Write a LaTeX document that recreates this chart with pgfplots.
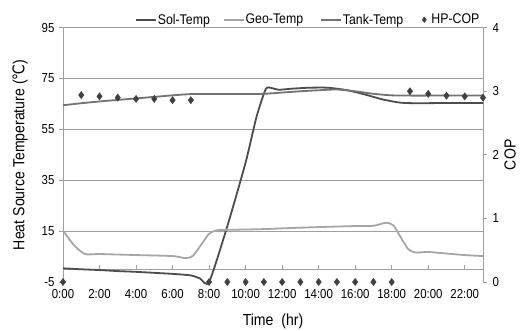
\documentclass[border=0pt]{standalone}
\usepackage{pgfplots}
\pgfplotsset{compat=1.18}
\usepackage{fontspec}
\setmainfont{Liberation Sans}[FakeStretch=0.88]
\newfontfamily\symfont{DejaVu Sans}[FakeStretch=0.88]
\definecolor{solc}{HTML}{4D4D4D}
\definecolor{geoc}{HTML}{A6A6A6}
\definecolor{tankc}{HTML}{737373}
\definecolor{copc}{HTML}{404040}
\definecolor{gridc}{HTML}{A0A0A0}
\pgfplotsset{shortline/.style={legend image code/.code={\draw[##1] (0pt,0pt) -- (20pt,0pt);}},
  dialeg/.style={legend image code/.code={\draw[##1] plot coordinates {(4pt,0pt)};}}}
\begin{document}
\begin{tikzpicture}
\pgfplotsset{
  every axis/.append style={
    scale only axis, width=420pt, height=254.3pt,
    xmin=0, xmax=23,
    tick label style={font=\fontsize{13}{13}\selectfont},
    /pgf/number format/assume math mode=true,
  }
}
\begin{axis}[
  axis lines=none,
  ymin=-5, ymax=95,
  ytick={-5,15,35,55,75,95},
  xtick=\empty,
  clip=false,
]
% grid lines
\foreach \v in {15,35,55,75,95}{
  \edef\tmp{\noexpand\draw[gridc, line width=0.8pt] (axis cs:0,\v) -- (axis cs:23,\v);}
  \tmp
}
\draw[gridc, line width=0.8pt] (axis cs:0,0) -- (axis cs:23,0);
\foreach \h in {2,4,...,22}{
  \edef\tmp{\noexpand\draw[gridc, line width=0.8pt] (axis cs:\h,0) -- ++(0pt,4pt);}
  \tmp
}
\draw[gridc, line width=0.8pt] (axis cs:0,-5) -- (axis cs:0,95);
\draw[gridc, line width=0.8pt] (axis cs:23,-5) -- (axis cs:23,95);
\foreach \v in {-5,15,35,55,75,95}{
  \edef\tmp{\noexpand\draw[gridc, line width=0.8pt] (axis cs:0,\v) -- ++(-4pt,0pt);
    \noexpand\node[anchor=east, font=\noexpand\fontsize{13}{13}\noexpand\selectfont] at ([xshift=-5pt]axis cs:0,\v) {\v};}
  \tmp
}
\foreach \h/\l in {0/0:00,2/2:00,4/4:00,6/6:00,8/8:00,10/10:00,12/12:00,14/14:00,16/16:00,18/18:00,20/20:00,22/22:00}{
  \edef\tmp{\noexpand\node[anchor=north, font=\noexpand\fontsize{13}{13}\noexpand\selectfont] at ([yshift=-4pt]axis cs:\h,-5) {\l};}
  \tmp
}
\node[font=\fontsize{16}{16}\selectfont] at ([yshift=-39pt]axis cs:11.5,-5) {Time\ \ (hr)};
\node[rotate=90, font=\fontsize{16}{16}\selectfont] at ([xshift=-43pt]axis cs:0,45) {Heat Source Temperature ({\symfont ℃})};
% Sol-Temp
\addplot[solc, line width=1.8pt, smooth, tension=0.4] coordinates {
(0,0.4) (1,0.0) (2,-0.3) (3,-0.7) (4,-1.0) (5,-1.4) (6,-1.8) (7,-2.4) (7.5,-3.6) (8,-5)
(9,17) (10,42) (10.6,60) (11.1,70.8) (11.4,71.3) (11.8,70.6) (12.5,71.0) (13.5,71.4) (14.5,71.4)
(15.5,70.5) (16.5,68.8) (17.5,66.8) (18.5,65.5) (19.5,65.3) (21,65.4) (23,65.4)
};
% Geo-Temp
\addplot[geoc, line width=1.8pt, smooth, tension=0.4] coordinates {
(0,15.2) (0.6,9.5) (1.2,6.0) (2,6.0) (4,5.6) (6,5.2) (6.7,4.4) (7.1,5.2) (7.6,10) (8,14.0) (8.4,15.3)
(9,15.5) (11,15.8) (12,16.1) (14,16.6) (16,17.0) (17,17.1) (17.7,18.3) (18.1,17.2) (18.5,12.5) (18.9,8.0) (19.3,6.6)
(20,6.8) (21,6.2) (22,5.6) (23,5.2)
};
% Tank-Temp
\addplot[tankc, line width=1.8pt, smooth, tension=0.4] coordinates {
(0,64.5) (1,65.3) (2,66.0) (3,66.6) (4,67.2) (5,67.8) (6,68.4) (7,68.9) (8,68.9) (9,68.9) (10,68.9)
(11,69.0) (12,69.5) (13,70.0) (14,70.4) (15,70.7) (16,70.0) (17,69.0) (18,68.4) (19,68.3) (20,68.3) (21,68.3) (22,68.3) (23,68.3)
};
\end{axis}
\begin{axis}[
  axis lines=none,
  ymin=0, ymax=4,
  clip=false,
  legend style={at={(0.171,1.0)}, anchor=south west, yshift=0pt, draw=none, fill=none,
    font=\fontsize{14}{14}\selectfont, legend columns=4,
    nodes={inner xsep=1pt},
    inner sep=0pt},
  legend cell align=left,
]
\foreach \v in {0,1,2,3,4}{
  \edef\tmp{\noexpand\draw[gridc, line width=0.8pt] (axis cs:23,\v) -- ++(4pt,0pt);
    \noexpand\node[anchor=west, font=\noexpand\fontsize{13}{13}\noexpand\selectfont] at ([xshift=6pt]axis cs:23,\v) {\v};}
  \tmp
}
\node[rotate=90, font=\fontsize{16}{16}\selectfont] at ([xshift=27pt]axis cs:23,2) {COP};
\addlegendimage{solc, line width=1.8pt, shortline}
\addlegendentry{Sol-Temp\rule{12pt}{0pt}}
\addlegendimage{geoc, line width=1.8pt, shortline}
\addlegendentry{Geo-Temp\rule{16pt}{0pt}}
\addlegendimage{tankc, line width=1.8pt, shortline}
\addlegendentry{Tank-Temp\rule{18pt}{0pt}}
\addlegendimage{only marks, mark=diamond*, mark size=2.8pt, color=copc, dialeg}
\addlegendentry{\rule{4pt}{0pt}HP-COP}
\addplot[only marks, mark=diamond*, mark size=3.6pt, color=copc, forget plot] coordinates {
(0,0) (1,2.94) (2,2.92) (3,2.90) (4,2.88) (5,2.88) (6,2.86) (7,2.86)
(8,0) (9,0) (10,0) (11,0) (12,0) (13,0) (14,0) (15,0) (16,0) (17,0) (18,0)
(19,3.00) (20,2.96) (21,2.93) (22,2.92) (23,2.90)
};
\end{axis}
\pgfresetboundingbox
\path (-63pt,-48pt) rectangle (458pt,282pt);
\end{tikzpicture}
\end{document}
